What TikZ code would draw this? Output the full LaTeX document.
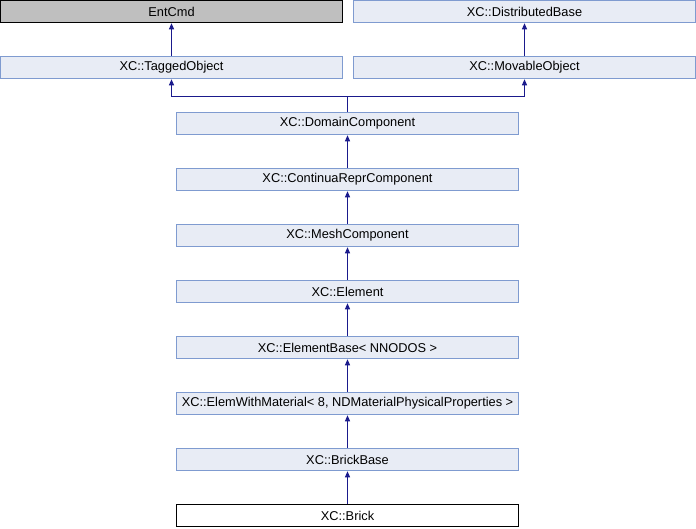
\documentclass[tikz,border=0pt]{standalone}
\usepackage{fontspec}
\setmainfont{Liberation Sans}
\usetikzlibrary{arrows.meta}
\definecolor{boxfill}{HTML}{E8ECF5}
\definecolor{boxdraw}{HTML}{7F9BD0}
\definecolor{edge}{HTML}{1A1A8C}
\begin{document}
\begin{tikzpicture}[x=1pt,y=-1pt,
  cls/.style={draw=boxdraw,fill=boxfill,line width=1pt,minimum height=22.5pt,inner sep=0pt,font=\fontsize{12.8}{14}\selectfont},
  ext/.style={cls,draw=black,fill=black!25},
  cur/.style={cls,draw=black,fill=white},
  inh/.style={{Triangle[width=5pt,length=6pt]}-,draw=edge,line width=1pt}]
\useasboundingbox (0,0) rectangle (696,528);
\node[ext,minimum width=342.5pt] (ent) at (171.5,11.5) {EntCmd};
\node[cls,minimum width=342pt] (dist) at (524.5,11.5) {XC::DistributedBase};
\node[cls,minimum width=342.5pt] (tag) at (171.5,67.5) {XC::TaggedObject};
\node[cls,minimum width=342pt] (mov) at (524.5,67.5) {XC::MovableObject};
\node[cls,minimum width=342pt] (dom) at (347.5,123.5) {XC::DomainComponent};
\node[cls,minimum width=342pt] (cont) at (347.5,179.5) {XC::ContinuaReprComponent};
\node[cls,minimum width=342pt] (mesh) at (347.5,235.5) {XC::MeshComponent};
\node[cls,minimum width=342pt] (elem) at (347.5,291.5) {XC::Element};
\node[cls,minimum width=342pt] (ebase) at (347.5,347.5) {XC::ElementBase< NNODOS >};
\node[cls,minimum width=342pt] (ewm) at (347.5,403.5) {XC::ElemWithMaterial< 8, NDMaterialPhysicalProperties >};
\node[cls,minimum width=342pt] (bb) at (347.5,459.5) {XC::BrickBase};
\node[cur,minimum width=342pt] (brick) at (347.5,515.5) {XC::Brick};
\coordinate (j) at (347.5,96.5);
\draw[inh] (ent.south) -- (tag.north);
\draw[inh] (dist.south) -- (mov.north);
\draw[inh] (tag.south) |- (j) -- (dom.north);
\draw[inh] (mov.south) |- (j);
\draw[inh] (dom.south) -- (cont.north);
\draw[inh] (cont.south) -- (mesh.north);
\draw[inh] (mesh.south) -- (elem.north);
\draw[inh] (elem.south) -- (ebase.north);
\draw[inh] (ebase.south) -- (ewm.north);
\draw[inh] (ewm.south) -- (bb.north);
\draw[inh] (bb.south) -- (brick.north);
\end{tikzpicture}
\end{document}
